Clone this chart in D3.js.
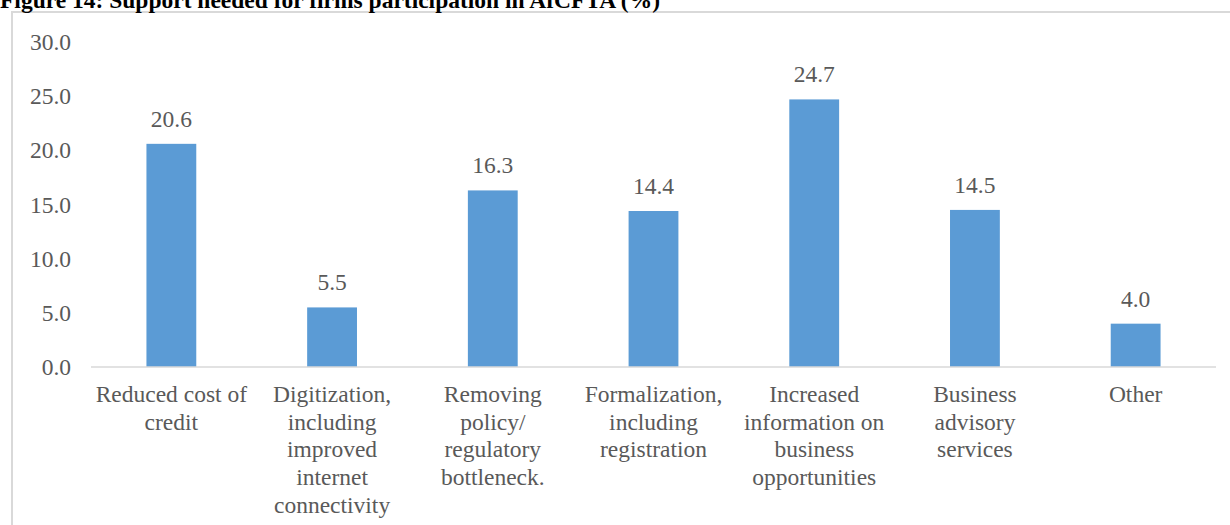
<!DOCTYPE html>
<html>
<head>
<meta charset="utf-8">
<script src="https://cdn.jsdelivr.net/npm/d3@7/dist/d3.min.js"></script>
<style>
  html, body { margin: 0; padding: 0; background: #fff; }
  svg { display: block; }
</style>
</head>
<body>
<svg id="chart" width="1230" height="525"></svg>
<script>
// Support needed for firms' participation in AfCFTA (%)
const categories = [
  ["Reduced cost of", "credit"],
  ["Digitization,", "including", "improved", "internet", "connectivity"],
  ["Removing", "policy/", "regulatory", "bottleneck."],
  ["Formalization,", "including", "registration"],
  ["Increased", "information on", "business", "opportunities"],
  ["Business", "advisory", "services"],
  ["Other"]
];
const values = [20.6, 5.5, 16.3, 14.4, 24.7, 14.5, 4.0];
const yTicks = [0, 5, 10, 15, 20, 25, 30];
const title = "Figure 14: Support needed for firms participation in AfCFTA (%)";

const svg = d3.select("#chart");
const font = "'Liberation Serif', 'Times New Roman', serif";
const textColor = "#595959";
const fontSize = 23.5;

const plot = { left: 91, right: 1216, top: 42, bottom: 367 };

const x = d3.scaleBand()
  .domain(d3.range(categories.length))
  .range([plot.left, plot.right])
  .paddingInner(0.69)
  .paddingOuter(0.345);

const y = d3.scaleLinear()
  .domain([0, 30])
  .range([plot.bottom, plot.top]);

// chart frame
svg.append("rect")
  .attr("x", 12).attr("y", 12)
  .attr("width", 1240).attr("height", 540)
  .attr("fill", "none")
  .attr("stroke", "#d9d9d9")
  .attr("stroke-width", 2);

// title (sits partly above the frame)
svg.append("text")
  .attr("x", 0).attr("y", 8)
  .attr("font-family", font)
  .attr("font-weight", "bold")
  .attr("font-size", 23.5)
  .attr("fill", "#000")
  .text(title);

// y axis labels
const yAxis = d3.axisLeft(y).tickValues(yTicks).tickFormat(d3.format(".1f")).tickSize(0).tickPadding(0);
const gy = svg.append("g").attr("transform", "translate(71,0)").call(yAxis);
gy.select(".domain").remove();
gy.selectAll("text")
  .attr("font-family", font)
  .attr("font-size", fontSize)
  .attr("fill", textColor);

// bars
svg.append("g").selectAll("rect")
  .data(values)
  .join("rect")
  .attr("x", (d, i) => x(i))
  .attr("y", d => y(d))
  .attr("width", x.bandwidth())
  .attr("height", d => y(0) - y(d))
  .attr("fill", "#5b9bd5");

// baseline
svg.append("line")
  .attr("x1", plot.left).attr("x2", plot.right)
  .attr("y1", y(0)).attr("y2", y(0))
  .attr("stroke", "#d9d9d9")
  .attr("stroke-width", 1.5);

// value labels
svg.append("g").selectAll("text")
  .data(values)
  .join("text")
  .attr("x", (d, i) => x(i) + x.bandwidth() / 2)
  .attr("y", d => y(d) - 17)
  .attr("text-anchor", "middle")
  .attr("font-family", font)
  .attr("font-size", fontSize)
  .attr("fill", textColor)
  .text(d => d3.format(".1f")(d));

// category labels
const lineH = 27.7;
const cat = svg.append("g").selectAll("text")
  .data(categories)
  .join("text")
  .attr("text-anchor", "middle")
  .attr("font-family", font)
  .attr("font-size", fontSize)
  .attr("fill", textColor);
cat.each(function(lines, i) {
  const cx = x(i) + x.bandwidth() / 2;
  d3.select(this).selectAll("tspan")
    .data(lines)
    .join("tspan")
    .attr("x", cx)
    .attr("y", (d, j) => y(0) + 35 + j * lineH)
    .text(d => d);
});
</script>
</body>
</html>
